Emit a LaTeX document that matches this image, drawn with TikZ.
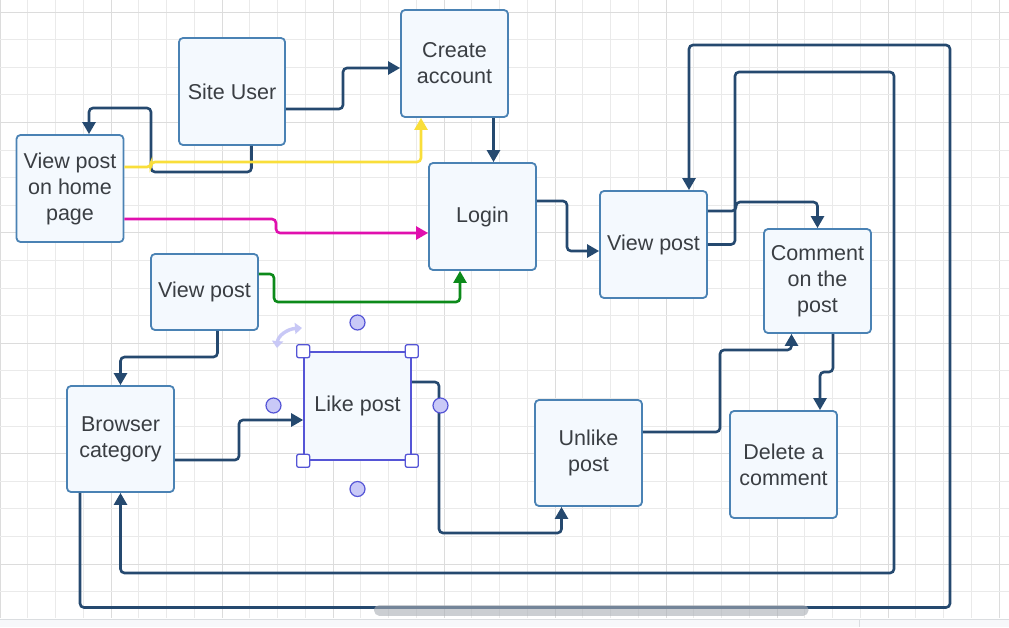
\documentclass[tikz,border=0pt]{standalone}
\usepackage{fontspec}
\setmainfont{Liberation Sans}
\usetikzlibrary{arrows.meta}
\definecolor{conn}{HTML}{25496F}
\definecolor{boxb}{HTML}{4A82B4}
\definecolor{boxf}{HTML}{F4F9FE}
\definecolor{txt}{HTML}{3A3E43}
\definecolor{gridminor}{HTML}{EAEAEA}
\definecolor{gridmajor}{HTML}{DCDCDC}
\definecolor{sel}{HTML}{5555D6}
\definecolor{selfill}{HTML}{C9C9F7}
\definecolor{rotc}{HTML}{C8C8F6}
\definecolor{ylw}{HTML}{F9DE3A}
\definecolor{mag}{HTML}{E00FAE}
\definecolor{grn}{HTML}{0C8A1A}
\definecolor{barf}{HTML}{F7F8FA}
\definecolor{barl}{HTML}{DADDE0}
\definecolor{scroll}{HTML}{A9AEB5}
\begin{document}
\begin{tikzpicture}[x=1pt,y=-1pt,
  box/.style={draw=boxb, fill=boxf, line width=1.8pt, rounded corners=4pt,
    minimum width=107pt, minimum height=107pt, align=center, text=txt,
    font=\fontsize{21.5}{26}\selectfont, inner sep=0pt},
  cn/.style={draw=conn, line width=2.6pt, rounded corners=4pt,
    -{Triangle[length=12pt,width=13pt]}},
  handlesq/.style={draw=sel, fill=white, minimum size=13pt, rounded corners=2pt,
    line width=1.3pt, inner sep=0pt},
  handlec/.style={circle, draw=sel, fill=selfill, minimum size=15pt,
    line width=1.2pt, inner sep=0pt},
]
\useasboundingbox (0,0) rectangle (1009,627);
\fill[white] (0,0) rectangle (1009,627);
% grid
\foreach \k in {0,...,36} {
  \pgfmathsetmacro{\gx}{27.75*\k}
  \pgfmathtruncatemacro{\m}{mod(\k,4)}
  \ifnum\m=0
    \draw[gridmajor, line width=1pt] (\gx,0) -- (\gx,618);
  \else
    \draw[gridminor, line width=0.8pt] (\gx,0) -- (\gx,618);
  \fi
}
\foreach \k in {0,...,21} {
  \pgfmathsetmacro{\gy}{12+27.6*\k}
  \pgfmathtruncatemacro{\m}{mod(\k,4)}
  \ifnum\m=0
    \draw[gridmajor, line width=1pt] (0,\gy) -- (1009,\gy);
  \else
    \draw[gridminor, line width=0.8pt] (0,\gy) -- (1009,\gy);
  \fi
}
% bottom bar
\fill[barf] (0,619) rectangle (1009,627);
\draw[barl, line width=1pt] (0,619) -- (1009,619);
\draw[barl, line width=1pt] (859,619) -- (859,627);

% nodes
\node[box, minimum width=106pt] (siteuser) at (232,91.5) {Site User};
\node[box] (create) at (454.5,63.5) {Create\\account};
\node[box] (home) at (70,188.5) {View post\\on home\\page};
\node[box] (login) at (482.5,216.5) {Login};
\node[box] (viewtr) at (653.5,244.5) {View post};
\node[box, minimum height=76pt] (viewl) at (204.5,292) {View post};
\node[box, minimum height=104pt] (comment) at (817.5,281) {Comment\\on the\\post};
\node[box, minimum height=106pt] (browser) at (120.5,439) {Browser\\category};
\node[box, draw=sel, line width=1.6pt, rounded corners=1pt, minimum height=108pt] (like) at (357.5,406) {Like post};
\node[box, minimum height=106pt] (unlike) at (588.5,453) {Unlike\\post};
\node[box] (delete) at (783.5,464.5) {Delete a\\comment};

% dark connectors
\draw[cn] ([yshift=-17.5pt]siteuser.east) -| (343,68) -- ([yshift=-4.5pt]create.west);
\draw[cn] ([xshift=19.5pt]siteuser.south) |- (151,172) -- (151,108) -| ([xshift=19pt]home.north);
\draw[cn] ([xshift=39pt]create.south) -- ([xshift=11pt]login.north);
\draw[cn] ([yshift=15.5pt]login.east) -| (567,251) -- ([yshift=-6.5pt]viewtr.west);
\draw[cn] ([xshift=-40.5pt]browser.south) -- (80,607.5) -| (950,45) -| ([xshift=35.5pt]viewtr.north);
\draw[cn] (viewtr.east) -| (735,72) -| (894,573) -| (browser.south);
\draw[cn] ([yshift=33.5pt]viewtr.east) -- (736,211) -- (736,202) -| (comment.north);
\draw[cn] ([xshift=15.5pt]comment.south) |- (820,372) -- ([xshift=36.5pt]delete.north);
\draw[cn] ([yshift=21pt]unlike.east) -| (720,350) -| ([xshift=-26pt]comment.south);
\draw[cn] ([yshift=-21pt]browser.east) -| (239,420) -- ([yshift=-14pt]like.west);
\draw[cn] ([yshift=24pt]like.east) -| (439,533) -| ([xshift=-27pt]unlike.south);
\draw[cn] ([xshift=13pt]viewl.south) |- (150,357) -| (browser.north);

% coloured connectors
\draw[cn, draw=ylw, -{Triangle[length=12pt,width=13pt,fill=ylw]}]
  ([yshift=21.5pt]home.east) -- (151,167) -- (151,162) -| ([xshift=-33.5pt]create.south);
\draw[cn, draw=mag, -{Triangle[length=12pt,width=13pt,fill=mag]}]
  ([yshift=-30.5pt]home.east) -| (276,233) -- ([yshift=-16.5pt]login.west);
\draw[cn, draw=grn, -{Triangle[length=12pt,width=13pt,fill=grn]}]
  ([yshift=18pt]viewl.east) -| (274,302) -| ([xshift=-22.5pt]login.south);

% selection handles on Like post
\node[handlesq] (hnw) at (like.north west) {};
\node[handlesq] (hne) at (like.north east) {};
\node[handlesq] (hsw) at (like.south west) {};
\node[handlesq] (hse) at (like.south east) {};
\node[handlec] (hct) at (357.5,322.5) {};
\node[handlec] (hcb) at (357.5,489) {};
\node[handlec] (hcl) at (273.5,405.5) {};
\node[handlec] (hcr) at (440.5,405.5) {};
\draw[rotc, line width=3.4pt, {Triangle[length=7pt,width=11pt]}-{Triangle[length=7pt,width=11pt]}]
  (277,348) .. controls (278,336) and (287,329) .. (302,328);

% scrollbar
\draw[line width=11pt, line cap=round, color=scroll, opacity=0.6] (379.5,610) -- (803,610);
\end{tikzpicture}
\end{document}
